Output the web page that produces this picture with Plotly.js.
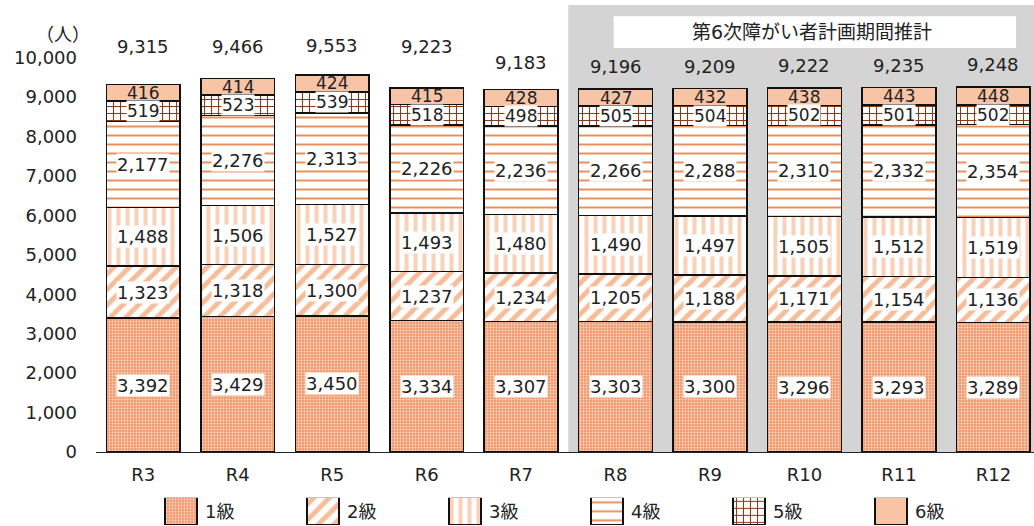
<!DOCTYPE html>
<html>
<head>
<meta charset="utf-8">
<script src="https://cdn.plot.ly/plotly-3.0.1.min.js"></script>
<style>html,body{margin:0;padding:0;background:#fff;}#chart{width:1034px;height:526px;}</style>
</head>
<body>
<div id="chart"></div>
<script>
const categories = ['R3','R4','R5','R6','R7','R8','R9','R10','R11','R12'];
const seriesNames = ['1級','2級','3級','4級','5級','6級'];
const grade1 = [3392,3429,3450,3334,3307,3303,3300,3296,3293,3289];
const grade2 = [1323,1318,1300,1237,1234,1205,1188,1171,1154,1136];
const grade3 = [1488,1506,1527,1493,1480,1490,1497,1505,1512,1519];
const grade4 = [2177,2276,2313,2226,2236,2266,2288,2310,2332,2354];
const grade5 = [519,523,539,518,498,505,504,502,501,502];
const grade6 = [416,414,424,415,428,427,432,438,443,448];
const totals = [9315,9466,9553,9223,9183,9196,9209,9222,9235,9248];
const yTicks = [0,1000,2000,3000,4000,5000,6000,7000,8000,9000,10000];
const planLabel = '第6次障がい者計画期間推計';
const unitLabel = '（人）';

// style-only settings
const totalLabelGap = [26,20,17,29,15,10,10,10,10,10];
const FONT = '"DejaVu Sans", "Noto Sans CJK JP", sans-serif';
const TXT = '#222';
const seriesData = [grade1, grade2, grade3, grade4, grade5, grade6];
const styles = [
  {color:'#f29a70', pattern:{shape:'.', bgcolor:'#f29a70', fgcolor:'#fddcc8', size:3, solidity:0.3}},
  {color:'#f7bc98', pattern:{shape:'/', bgcolor:'#ffffff', fgcolor:'#f7bc98', size:11, solidity:0.45}},
  {color:'#f9d0b8', pattern:{shape:'|', bgcolor:'#ffffff', fgcolor:'#f9d0b8', size:9, solidity:0.45}},
  {color:'#e8905c', pattern:{shape:'-', bgcolor:'#ffffff', fgcolor:'#e8905c', size:9, solidity:0.22}},
  {color:'#8b3a1a', pattern:{shape:'+', bgcolor:'#ffffff', fgcolor:'#8b3a1a', size:7, solidity:0.28}},
  {color:'#f8c4a6', pattern:{shape:''}}
];
const labelSizes = [18,18,18,18,17,17];

const traces = seriesData.map((vals, i) => ({
  type:'bar', name:seriesNames[i], x:categories, y:vals,
  width:0.78, showlegend:false,
  marker:{color:styles[i].color, pattern:styles[i].pattern, line:{color:'#111', width:1.5}},
  hoverinfo:'skip'
}));
// custom legend swatches (large boxes like the reference)
seriesNames.forEach((n, i) => {
  traces.push({
    type:'bar', name:n, x:[n], y:[1], width:0.225, showlegend:false,
    xaxis:'x2', yaxis:'y2',
    marker:{color:styles[i].color, pattern:styles[i].pattern, line:{color:'#111', width:1.2}},
    hoverinfo:'skip'
  });
});

const annotations = [];
categories.forEach((c, j) => {
  let cum = 0;
  seriesData.forEach((vals, i) => {
    const v = vals[j];
    const mid = cum + v/2;
    cum += v;
    annotations.push({
      x:c, y:mid, xref:'x', yref:'y', text:v.toLocaleString('en-US'), showarrow:false,
      font:{family:FONT, size:labelSizes[i], color:TXT},
      bgcolor: i < 5 ? '#ffffff' : 'rgba(0,0,0,0)', borderpad:0
    });
  });
  annotations.push({
    x:c, y:totals[j], xref:'x', yref:'y', yanchor:'bottom', yshift:totalLabelGap[j],
    text:totals[j].toLocaleString('en-US'), showarrow:false,
    font:{family:FONT, size:18, color:TXT}
  });
});
annotations.push({
  x:7.08, y:0.94, xref:'x', yref:'y domain', yanchor:'middle',
  text:planLabel, showarrow:false, font:{family:FONT, size:19, color:TXT}
});
annotations.push({
  x:-0.066, y:0.967, xref:'paper', yref:'paper', text:unitLabel, showarrow:false,
  font:{family:FONT, size:18, color:TXT}
});
seriesNames.forEach((n, i) => {
  annotations.push({
    x:n, y:0.5, xref:'x2', yref:'y2', xanchor:'left', xshift:22, text:n, showarrow:false,
    font:{family:FONT, size:18, color:TXT}
  });
});

const layout = {
  width:1034, height:526,
  margin:{l:96, r:0, t:5, b:0},
  paper_bgcolor:'#fff', plot_bgcolor:'rgba(0,0,0,0)',
  barmode:'stack',
  font:{family:FONT, size:18, color:TXT},
  showlegend:false,
  xaxis:{range:[-0.5, 9.43], showgrid:false, zeroline:false, showline:true, linecolor:'#222', linewidth:1,
         ticks:'', ticklabelstandoff:6, tickfont:{family:FONT, size:18, color:TXT}, fixedrange:true},
  yaxis:{domain:[0.142, 1], range:[0, 11330], tickvals:yTicks, ticktext:yTicks.map(v=>v.toLocaleString('en-US')),
         showgrid:false, zeroline:false, showline:false, ticks:'', ticklabelstandoff:18,
         tickfont:{family:FONT, size:18, color:TXT}, fixedrange:true},
  xaxis2:{anchor:'y2', type:'category', range:[-0.599, 6.007], visible:false, fixedrange:true},
  yaxis2:{anchor:'x2', domain:[0.002, 0.054], range:[0, 1], visible:false, fixedrange:true},
  shapes:[
    {type:'rect', xref:'x', yref:'y domain', x0:4.5, x1:9.6, y0:0, y1:1, fillcolor:'#d4d4d4', line:{width:0}, layer:'below'},
    {type:'rect', xref:'x', yref:'y domain', x0:4.98, x1:9.24, y0:0.904, y1:0.975, fillcolor:'#ffffff', line:{width:0}, layer:'below'}
  ],
  annotations:annotations
};
Plotly.newPlot('chart', traces, layout, {displayModeBar:false, staticPlot:true});
</script>
</body>
</html>
